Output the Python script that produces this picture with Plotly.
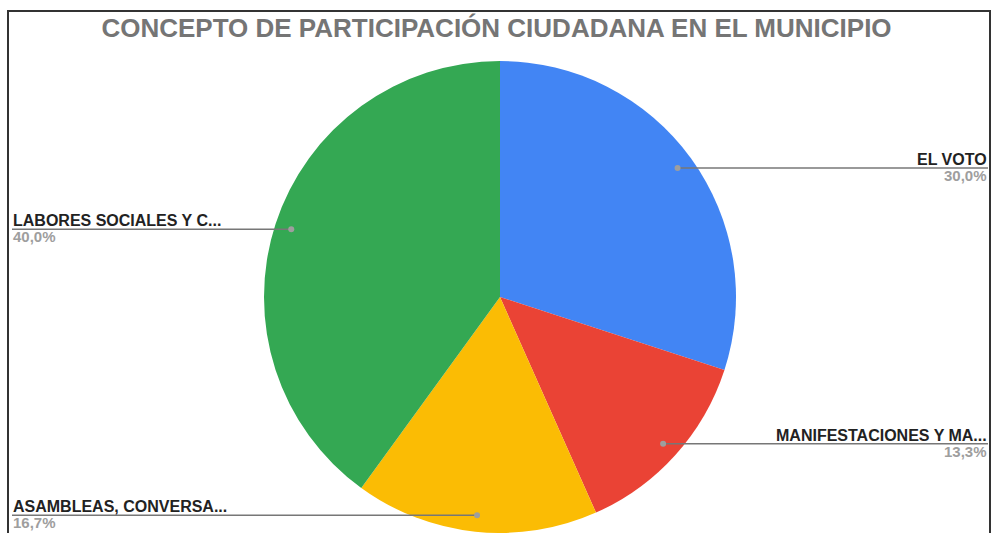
import math
import plotly.graph_objects as go

# ---- data ----
categories = ["EL VOTO", "MANIFESTACIONES Y MA...", "ASAMBLEAS, CONVERSA...", "LABORES SOCIALES Y C..."]
values = [9, 4, 5, 12]
colors = ["#4285F4", "#EA4335", "#FBBC04", "#34A853"]
title_text = "CONCEPTO DE PARTICIPACIÓN CIUDADANA EN EL MUNICIPIO"

W, H = 993, 533
CX, CY, R = 500, 297, 236  # pie geometry in pixels

fig = go.Figure()
fig.add_trace(go.Pie(
    labels=categories,
    values=values,
    sort=False,
    direction="clockwise",
    rotation=0,
    marker=dict(colors=colors, line=dict(width=0)),
    textinfo="none",
    hoverinfo="label+percent",
    showlegend=False,
    domain=dict(x=[(CX - R) / W, (CX + R) / W], y=[1 - (CY + R) / H, 1 - (CY - R) / H]),
))

total = sum(values)
shapes = []
annotations = []
cum = 0
label_font = dict(family="Liberation Sans, Arial, sans-serif", size=16, color="#222222")
pct_font = dict(family="Liberation Sans, Arial, sans-serif", size=15, color="#9E9E9E")
for cat, v in zip(categories, values):
    frac = v / total
    mid = (cum + frac / 2) * 2 * math.pi
    cum += frac
    dx = 0.93 * R * math.sin(mid)
    dy = -0.93 * R * math.cos(mid)
    px, py = CX + dx, CY + dy
    right = math.sin(mid) > 0
    end_x = 988 if right else 12
    yp = 1 - py / H
    shapes.append(dict(type="line", xref="paper", yref="paper",
                       x0=px / W, x1=end_x / W, y0=yp, y1=yp,
                       line=dict(color="#777777", width=1.5)))
    shapes.append(dict(type="circle", xref="paper", yref="paper",
                       x0=(px - 3) / W, x1=(px + 3) / W, y0=yp - 3 / H, y1=yp + 3 / H,
                       fillcolor="#9E9E9E", line=dict(width=0)))
    anchor = "right" if right else "left"
    annotations.append(dict(text="<b>%s</b>" % cat, x=end_x / W, y=yp, xref="paper", yref="paper",
                            xanchor=anchor, yanchor="bottom", showarrow=False, font=label_font,
                            borderpad=0, yshift=-1))
    pct = ("%.1f%%" % (frac * 100)).replace(".", ",")
    annotations.append(dict(text="<b>%s</b>" % pct, x=end_x / W, y=yp, xref="paper", yref="paper",
                            xanchor=anchor, yanchor="top", showarrow=False, font=pct_font,
                            borderpad=0, yshift=2))

# frame border
shapes.append(dict(type="rect", xref="paper", yref="paper",
                   x0=8 / W, x1=990 / W, y0=-0.05, y1=1 - 11 / H,
                   line=dict(color="#333333", width=2), fillcolor="rgba(0,0,0,0)"))

fig.update_layout(
    width=W, height=H,
    margin=dict(l=0, r=0, t=0, b=0),
    paper_bgcolor="white",
    plot_bgcolor="white",
    title=dict(text="<b>%s</b>" % title_text, x=0.5, xanchor="center",
               y=1 - 28 / H, yanchor="middle", yref="container",
               font=dict(family="Liberation Sans, Arial, sans-serif",
                         size=26, color="#757575")),
    shapes=shapes,
    annotations=annotations,
)

fig.write_html("out.html", config={"displayModeBar": False},
               post_script="document.body.style.margin='0px';document.body.style.overflow='hidden';")
